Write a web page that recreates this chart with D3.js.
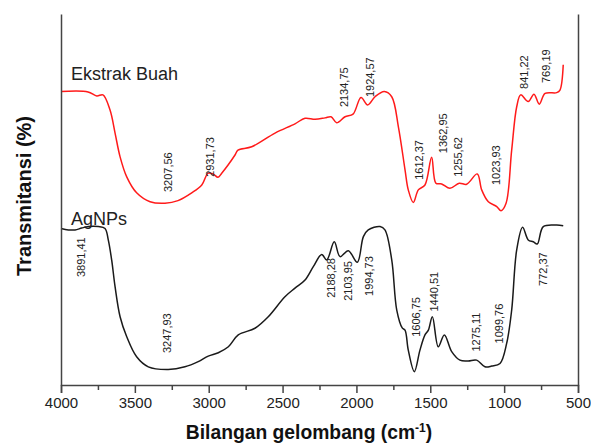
<!DOCTYPE html>
<html>
<head>
<meta charset="utf-8">
<script src="https://cdn.jsdelivr.net/npm/d3@7"></script>
<style>
  body { margin: 0; background: #fff; }
  svg text { font-family: "Liberation Sans", Arial, sans-serif; }
</style>
</head>
<body>
<div id="chart"></div>
<script>
// FTIR spectra: wavenumber (cm-1) and transmittance (arbitrary %, stacked)
const ekstrakWave = [4000, 3817, 3758, 3716, 3668, 3634, 3600, 3555, 3488, 3397, 3296, 3208, 3115, 3047, 3004, 2971, 2937, 2912, 2869, 2822, 2802, 2709, 2551, 2416, 2348, 2280, 2213, 2172, 2134, 2077, 2023, 1969, 1924, 1874, 1811, 1761, 1716, 1671, 1649, 1615, 1581, 1536, 1491, 1462, 1423, 1367, 1304, 1254, 1182, 1152, 1107, 1050, 1021, 987, 949, 915, 888, 837, 798, 762, 723, 644, 622, 600];
const ekstrakT = [79.1, 79.0, 77.9, 78.2, 74.1, 67.9, 61.5, 56.1, 51.8, 49.4, 49.0, 49.7, 51.8, 53.9, 57.1, 56.9, 56.0, 57.1, 59.3, 62.0, 63.3, 64.2, 67.9, 70.4, 71.9, 71.6, 72.0, 72.3, 70.7, 72.3, 73.0, 77.5, 75.5, 77.7, 79.1, 77.7, 69.6, 58.0, 52.6, 49.2, 52.6, 53.9, 61.4, 54.4, 54.2, 53.0, 54.4, 54.1, 56.9, 52.6, 49.4, 48.1, 47.0, 49.0, 63.3, 75.0, 78.2, 76.4, 78.4, 75.7, 78.6, 78.8, 79.5, 86.3];

const agnpsWave = [4000, 3950, 3905, 3860, 3815, 3747, 3702, 3680, 3657, 3634, 3600, 3555, 3488, 3409, 3274, 3161, 3071, 3003, 2935, 2867, 2800, 2687, 2597, 2484, 2416, 2348, 2292, 2235, 2201, 2150, 2111, 2055, 1994, 1953, 1920, 1840, 1807, 1761, 1727, 1690, 1671, 1649, 1608, 1570, 1536, 1513, 1486, 1446, 1405, 1355, 1299, 1243, 1186, 1130, 1084, 1028, 983, 949, 915, 875, 837, 803, 776, 735, 644, 600];
const agnpsT = [42.2, 41.8, 41.8, 42.3, 42.7, 42.7, 42.2, 39.1, 33.7, 26.5, 18.4, 13.0, 7.6, 4.9, 4.2, 4.9, 6.3, 7.8, 8.7, 10.3, 13.5, 15.3, 18.4, 23.8, 26.1, 28.3, 31.9, 35.2, 33.7, 38.6, 34.6, 36.2, 33.1, 40.0, 41.8, 42.7, 41.8, 33.7, 20.2, 15.4, 14.8, 9.4, 3.6, 9.4, 13.5, 14.8, 18.4, 10.3, 13.5, 9.0, 6.7, 6.5, 6.7, 4.9, 5.1, 5.8, 11.2, 20.2, 36.4, 42.5, 39.1, 38.6, 38.0, 42.7, 43.1, 42.9];

// Peak annotations: text, anchor wavenumber, anchor transmittance (bottom of text)
const ekstrakPeaks = ['3207,56', '2931,73', '2134,75', '1924,57', '1612,37', '1362,95', '1255,62', '1023,93', '841,22', '769,19'];
const ekstrakPeakWave = [3276, 2991, 2084, 1908, 1576, 1414, 1312, 1055, 865, 719];
const ekstrakPeakT = [52.0, 56.1, 74.9, 77.6, 55.3, 62.5, 56.1, 53.9, 79.8, 81.4];

const agnpsPeaks = ['3891,41', '3247,93', '2188,28', '2103,95', '1994,73', '1606,75', '1440,51', '1275,11', '1099,76', '772,37'];
const agnpsPeakWave = [3865, 3284, 2172, 2059, 1915, 1597, 1473, 1190, 1033, 739];
const agnpsPeakT = [29.1, 8.6, 23.5, 22.7, 24.0, 13.0, 19.8, 9.0, 11.2, 26.7];

const xTicks = [4000, 3500, 3000, 2500, 2000, 1500, 1000, 500];
const xMinorTicks = [3750, 3250, 2750, 2250, 1750, 1250, 750];

const width = 591, height = 446;
const margin = { top: 14, right: 13, bottom: 61, left: 61 };

const svg = d3.select('#chart')
  .append('svg')
  .attr('width', width)
  .attr('height', height);

const x = d3.scaleLinear()
  .domain([4000, 500])
  .range([margin.left, width - margin.right]);

const y = d3.scaleLinear()
  .domain([0, 100])
  .range([height - margin.bottom, margin.top]);

const line = d3.line()
  .x(d => x(d[0]))
  .y(d => y(d[1]))
  .curve(d3.curveCatmullRom.alpha(0.5));

const ekstrak = d3.zip(ekstrakWave, ekstrakT);
const agnps = d3.zip(agnpsWave, agnpsT);

svg.append('path')
  .datum(ekstrak)
  .attr('fill', 'none')
  .attr('stroke', '#ff1a1a')
  .attr('stroke-width', 1.5)
  .attr('d', line);

svg.append('path')
  .datum(agnps)
  .attr('fill', 'none')
  .attr('stroke', '#1a1a1a')
  .attr('stroke-width', 1.5)
  .attr('d', line);

// Peak labels (rotated)
function addPeaks(texts, waves, vals) {
  svg.selectAll(null)
    .data(texts)
    .enter()
    .append('text')
    .attr('transform', (d, i) => `translate(${x(waves[i])},${y(vals[i])}) rotate(-90)`)
    .attr('dy', '0.35em')
    .attr('font-size', 11)
    .attr('fill', '#222')
    .text(d => d);
}
addPeaks(ekstrakPeaks, ekstrakPeakWave, ekstrakPeakT);
addPeaks(agnpsPeaks, agnpsPeakWave, agnpsPeakT);

// Series names
svg.append('text')
  .attr('x', 71)
  .attr('y', 80)
  .attr('font-size', 18)
  .attr('fill', '#222')
  .text('Ekstrak Buah');

svg.append('text')
  .attr('x', 71)
  .attr('y', 225)
  .attr('font-size', 18)
  .attr('fill', '#222')
  .text('AgNPs');

// Axes
const xAxis = svg.append('g')
  .attr('transform', `translate(0,${height - margin.bottom})`)
  .call(d3.axisBottom(x).tickValues(xTicks).tickSize(8).tickPadding(4).tickFormat(d3.format('d')));
xAxis.selectAll('text').attr('font-size', 15).attr('fill', '#222');

svg.append('g')
  .attr('transform', `translate(0,${height - margin.bottom})`)
  .call(d3.axisBottom(x).tickValues(xMinorTicks).tickSize(5).tickFormat(''))
  .select('.domain').remove();

svg.append('g')
  .attr('transform', `translate(${margin.left},0)`)
  .call(d3.axisLeft(y).tickValues([]).tickSizeOuter(0));

svg.append('g')
  .attr('transform', `translate(${width - margin.right},0)`)
  .call(d3.axisRight(y).tickValues([]).tickSizeOuter(0));

svg.selectAll('.domain, .tick line')
  .attr('stroke', '#444')
  .attr('stroke-width', 1.5);

// Axis titles
svg.append('text')
  .attr('transform', `translate(31,196) rotate(-90)`)
  .attr('text-anchor', 'middle')
  .attr('font-size', 20)
  .attr('font-weight', 'bold')
  .attr('fill', '#111')
  .text('Transmitansi (%)');

const xt = svg.append('text')
  .attr('x', 309)
  .attr('y', 439)
  .attr('text-anchor', 'middle')
  .attr('font-size', 19.3)
  .attr('font-weight', 'bold')
  .attr('fill', '#111');
xt.append('tspan').text('Bilangan gelombang (cm');
xt.append('tspan').attr('dy', -7).attr('font-size', 12).text('-1');
xt.append('tspan').attr('dy', 7).text(')');
</script>
</body>
</html>
